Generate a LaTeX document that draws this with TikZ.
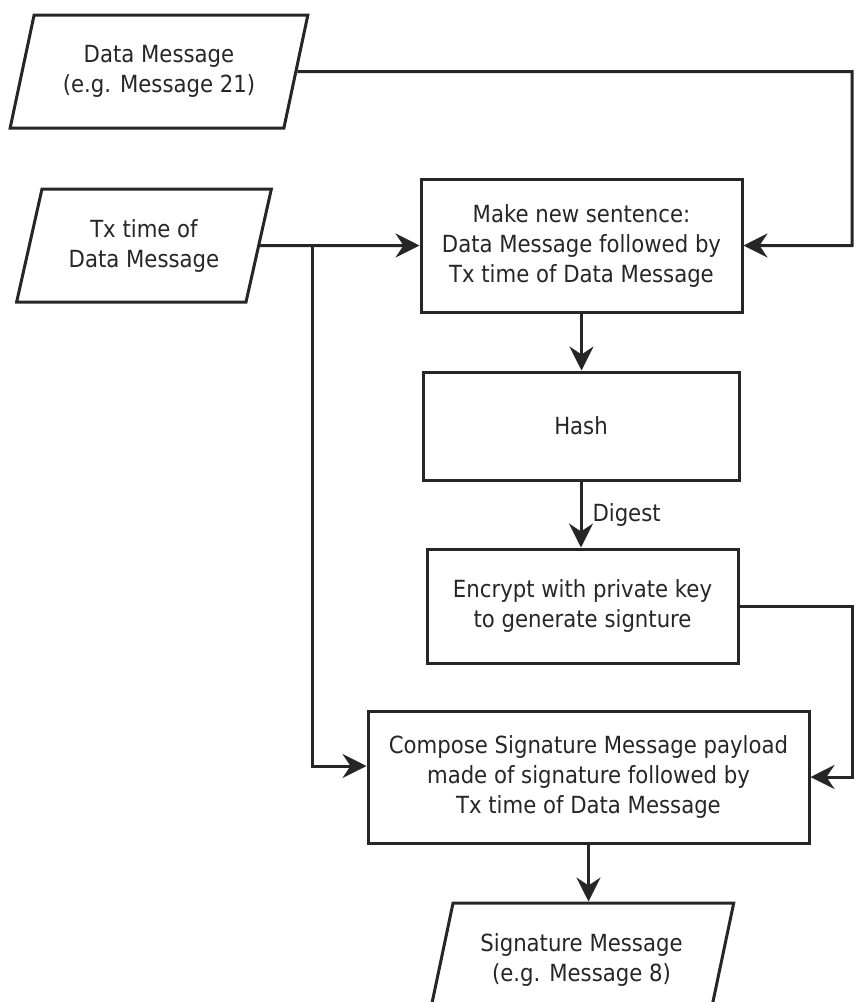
\documentclass[tikz,border=0pt]{standalone}
\usepackage{fontspec}
\setmainfont{DejaVu Sans Condensed}
\usetikzlibrary{shapes.geometric,arrows.meta}

\begin{document}
\begin{tikzpicture}[
        x=0.5pt, y=-0.5pt,
        every node/.style={font=\fontsize{11.8}{15}\selectfont, align=center, text=black!85},
        box/.style={draw=black!85, line width=1.5pt, rectangle, inner sep=0pt},
        io/.style={draw=black!85, line width=1.5pt, trapezium, trapezium left angle=70.5, trapezium right angle=109.5, trapezium stretches=true, inner sep=0pt},
        line/.style={draw=black!85, line width=1.5pt},
        flow/.style={line, -{Stealth[length=12pt, width=12pt, inset=4pt]}},
    ]
    \useasboundingbox (0,0) rectangle (854,1002);
    \clip (0,0) rectangle (854,1002);

    % inputs
    \node[io, minimum width=149pt, minimum height=56.5pt] (datamsg) at (159,71.5) {Data Message\\(e.g. Message 21)};
    \node[io, minimum width=128pt, minimum height=56.5pt] (txtime) at (144,245.5) {Tx time of\\Data Message};

    % steps
    \node[box, minimum width=160.5pt, minimum height=66.5pt] (sentence) at (581.5,245.5) {Make new sentence:\\Data Message followed by\\Tx time of Data Message};
    \node[box, minimum width=158pt, minimum height=54pt] (hash) at (581,426) {Hash};
    \node[box, minimum width=155.5pt, minimum height=57pt] (encrypt) at (582.5,606) {Encrypt with private key\\to generate signture};
    \node[box, minimum width=220.5pt, minimum height=66pt] (compose) at (588.5,777) {Compose Signature Message payload\\made of signature followed by\\Tx time of Data Message};

    % output
    \node[io, minimum width=152.5pt, minimum height=56.5pt] (sigmsg) at (581.5,959.5) {Signature Message\\(e.g. Message 8)};

    \coordinate (rightA) at (852,71.5);
    \coordinate (rightB) at (852,606);
    \coordinate (split) at (312,245.5);

    \draw[flow] (datamsg.east) -- (rightA) |- (sentence.east);
    \draw[flow] (txtime.east) -- (sentence.west);
    \draw[flow] (split) |- ([yshift=5.5pt]compose.west);
    \draw[flow] (sentence.south) -- (sentence.south |- hash.north);
    \draw[flow] (hash.south) -- node[right, inner sep=2pt, xshift=3pt] {Digest} (hash.south |- encrypt.north);
    \draw[flow] (encrypt.east) -- (rightB) |- (compose.east);
    \draw[flow] (compose.south) -- (compose.south |- sigmsg.north);
\end{tikzpicture}
\end{document}
